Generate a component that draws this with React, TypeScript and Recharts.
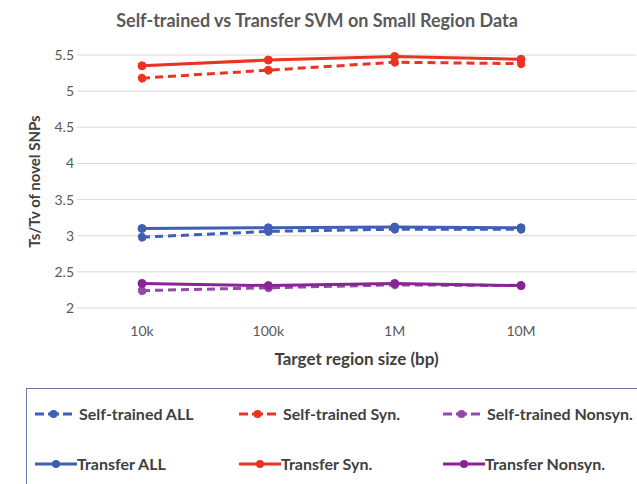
import { CartesianGrid, Line, LineChart, XAxis, YAxis } from "recharts";

const sizes = ["10k", "100k", "1M", "10M"];
const selfAll = [2.98, 3.06, 3.09, 3.09];
const selfSyn = [5.18, 5.29, 5.4, 5.38];
const selfNonsyn = [2.24, 2.28, 2.32, 2.31];
const transferAll = [3.1, 3.11, 3.12, 3.11];
const transferSyn = [5.35, 5.43, 5.48, 5.44];
const transferNonsyn = [2.34, 2.31, 2.34, 2.31];
const yTicks = [2, 2.5, 3, 3.5, 4, 4.5, 5, 5.5];

const BLUE = "#3f5fb3";
const RED = "#ea3323";
const PURPLE = "#8a2396";
const PURPLE_LIGHT = "#9449aa";
const TEXT = "#595959";
const DARK = "#404040";
const GRID = "#d9d9d9";
const FONT = "Lato, 'Open Sans', sans-serif";

const series = [
  { key: "selfAll", name: "Self-trained ALL", color: BLUE, dashed: true },
  { key: "selfSyn", name: "Self-trained Syn.", color: RED, dashed: true },
  { key: "selfNonsyn", name: "Self-trained Nonsyn.", color: PURPLE_LIGHT, dashed: true },
  { key: "transferAll", name: "Transfer ALL", color: BLUE, dashed: false },
  { key: "transferSyn", name: "Transfer Syn.", color: RED, dashed: false },
  { key: "transferNonsyn", name: "Transfer Nonsyn.", color: PURPLE, dashed: false },
];

const data = sizes.map((size, i) => ({
  size,
  selfAll: selfAll[i],
  selfSyn: selfSyn[i],
  selfNonsyn: selfNonsyn[i],
  transferAll: transferAll[i],
  transferSyn: transferSyn[i],
  transferNonsyn: transferNonsyn[i],
}));

function LegendKey({ color, dashed }: { color: string; dashed: boolean }) {
  if (dashed) {
    return (
      <svg width={42} height={10}>
        <line x1={0} y1={5} x2={9} y2={5} stroke={color} strokeWidth={3} />
        <line x1={13} y1={5} x2={24} y2={5} stroke={color} strokeWidth={3} />
        <circle cx={18.5} cy={5} r={4} fill={color} />
        <line x1={28} y1={5} x2={37} y2={5} stroke={color} strokeWidth={3} />
      </svg>
    );
  }
  return (
    <svg width={42} height={10}>
      <line x1={0} y1={5} x2={42} y2={5} stroke={color} strokeWidth={3} />
      <circle cx={21} cy={5} r={4} fill={color} />
    </svg>
  );
}

export default function App() {
  return (
    <div
      style={{
        position: "absolute",
        left: 0,
        top: 0,
        width: 637,
        height: 484,
        overflow: "hidden",
        background: "#fff",
        fontFamily: FONT,
      }}
    >
      <div
        style={{
          position: "absolute",
          top: 9,
          left: 0,
          width: 634,
          textAlign: "center",
          fontSize: 18,
          fontWeight: 700,
          color: TEXT,
        }}
      >
        Self-trained vs Transfer SVM on Small Region Data
      </div>
      <LineChart
        width={637}
        height={484}
        data={data}
        margin={{ top: 55, right: 1, left: 27, bottom: 116 }}
      >
        <CartesianGrid vertical={false} stroke={GRID} />
        <XAxis
          dataKey="size"
          height={60}
          padding={{ left: 65, right: 115 }}
          axisLine={false}
          tickLine={false}
          tickMargin={12}
          tick={{ fontSize: 14, fill: TEXT, fontFamily: FONT }}
          label={{
            value: "Target region size (bp)",
            position: "insideBottom",
            offset: 3,
            style: { fontSize: 17, fontWeight: 700, fill: DARK, fontFamily: FONT },
          }}
        />
        <YAxis
          width={50}
          domain={[2, 5.5]}
          ticks={yTicks}
          axisLine={false}
          tickLine={false}
          tickSize={0}
          tickMargin={3}
          tick={{ fontSize: 14, fill: TEXT, fontFamily: FONT }}
          label={{
            value: "Ts/Tv of novel SNPs",
            angle: -90,
            position: "insideLeft",
            offset: 8,
            style: { textAnchor: "middle", fontSize: 15, fontWeight: 700, fill: DARK, fontFamily: FONT },
          }}
        />
        {series.map((s) => (
          <Line
            key={s.key}
            type="linear"
            dataKey={s.key}
            name={s.name}
            stroke={s.color}
            strokeWidth={3}
            strokeDasharray={s.dashed ? "8 5" : undefined}
            dot={{ r: 4, fill: s.color, stroke: s.color, strokeWidth: 1 }}
            isAnimationActive={false}
          />
        ))}
      </LineChart>
      <div
        style={{
          position: "absolute",
          left: 26,
          top: 388,
          width: 640,
          height: 120,
          border: "1.5px solid #6b7aa8",
          boxSizing: "border-box",
        }}
      >
        {series.map((s, i) => (
          <div
            key={s.key}
            style={{
              position: "absolute",
              left: 8 + (i % 3) * 204,
              top: i < 3 ? 15 : 65,
              display: "flex",
              alignItems: "center",
              gap: s.dashed ? 2 : 0,
              whiteSpace: "nowrap",
              fontSize: 16,
              fontWeight: 700,
              color: DARK,
            }}
          >
            <LegendKey color={s.color} dashed={s.dashed} />
            {s.name}
          </div>
        ))}
      </div>
    </div>
  );
}
